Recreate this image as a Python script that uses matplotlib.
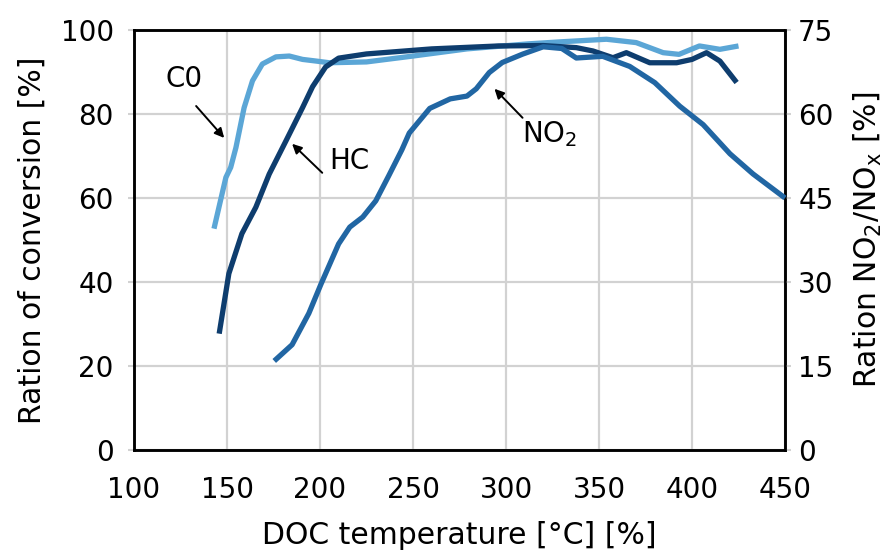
import matplotlib
matplotlib.use("Agg")
import matplotlib.pyplot as plt

# ---- data ----
co_temp = [143, 149.4, 152, 154.8, 159.2, 163.7, 169, 176.3, 183.5, 190.6, 198, 205, 225, 250, 279, 312, 330, 354, 370, 384.5, 393, 404, 415, 425]
co_conv = [52.7, 64.9, 67.3, 72, 81.5, 87.9, 91.9, 93.6, 93.8, 93.0, 92.6, 92.2, 92.4, 93.8, 95.5, 96.7, 97.2, 97.8, 97.0, 94.6, 94.2, 96.2, 95.4, 96.2]

hc_temp = [145.8, 151, 158, 165.5, 172.7, 181.7, 190.6, 196, 203, 210, 225, 260, 296, 320, 337.8, 346.8, 357.5, 364.7, 377.3, 391.7, 400, 407.8, 415, 424]
hc_conv = [27.7, 42, 51.5, 57.8, 65.7, 73.6, 81.5, 86.5, 91.2, 93.3, 94.3, 95.5, 96.2, 96.3, 95.8, 95.0, 93.4, 94.6, 92.2, 92.2, 93.0, 94.6, 92.6, 87.5]

no2_temp = [175.4, 185, 194, 200.5, 210, 216, 223, 230, 237, 244, 248, 259, 270, 279, 284, 291, 298, 309, 320, 330, 337.8, 352, 366.5, 380, 393.4, 406, 420.4, 432.8, 450]
no2_ratio = [15.9, 18.8, 24.4, 29.6, 36.8, 39.8, 41.6, 44.5, 49.0, 53.6, 56.6, 61.0, 62.7, 63.2, 64.5, 67.4, 69.2, 70.7, 72.0, 71.7, 70.0, 70.3, 68.5, 65.6, 61.4, 58.1, 52.9, 49.3, 45.0]

x_ticks = [100, 150, 200, 250, 300, 350, 400, 450]
y_ticks = [0, 20, 40, 60, 80, 100]
y2_ticks = [0, 15, 30, 45, 60, 75]

c_co = "#5ba6d6"
c_hc = "#0e3d6e"
c_no2 = "#2166a3"
grid_c = "#d2d2d2"

plt.rcParams['font.family'] = ['DejaVu Sans']

fig = plt.figure(figsize=(8.88, 5.53), dpi=100)
ax = fig.add_axes([134/888, 1-450/553, (785-134)/888, (450-30)/553])
ax2 = ax.twinx()

ax.set_xlim(100, 450)
ax.set_ylim(0, 100)
ax2.set_ylim(0, 75)

ax.set_xticks(x_ticks)
ax.set_yticks(y_ticks)
ax2.set_yticks(y2_ticks)

ax.grid(True, color=grid_c, linewidth=1.6)
ax.set_axisbelow(True)

lw = 3.8
ax.plot(co_temp, co_conv, color=c_co, lw=lw, solid_capstyle='butt', zorder=3)
ax.plot(hc_temp, hc_conv, color=c_hc, lw=lw, solid_capstyle='butt', zorder=4)
ax2.plot(no2_temp, no2_ratio, color=c_no2, lw=lw, solid_capstyle='butt', zorder=3, clip_on=False)

for a in (ax, ax2):
    for s in a.spines.values():
        s.set_linewidth(1.8)
        s.set_color('black')

fs_tick = 20
fs_lab = 21.5
ax.tick_params(axis='x', length=0, pad=19, labelsize=fs_tick)
ax.tick_params(axis='y', length=4.5, width=1.5, color=grid_c, pad=10, labelsize=fs_tick)
ax2.tick_params(axis='y', length=4.5, width=1.5, color=grid_c, pad=5, labelsize=fs_tick)

ax.set_xlabel("DOC temperature [°C] [%]", fontsize=fs_lab, labelpad=12)
ax.set_ylabel("Ration of conversion [%]", fontsize=fs_lab, labelpad=10)
ax2.set_ylabel("Ration NO$_2$/NO$_\\mathrm{x}$ [%]", fontsize=fs_lab, labelpad=13)

arrow = dict(arrowstyle='-|>', color='black', lw=1.4, mutation_scale=14, shrinkA=0, shrinkB=0)
fs_ann = 20
ax.text(127, 88.4, "C0", fontsize=fs_ann, ha='center', va='center')
ax.annotate("", xy=(148.5, 74.3), xytext=(133.4, 81.9), arrowprops=arrow)
ax.text(216, 68.9, "HC", fontsize=fs_ann, ha='center', va='center')
ax.annotate("", xy=(185, 72.9), xytext=(201.2, 66), arrowprops=arrow)
ax.text(323.5, 75.3, "NO$_2$", fontsize=fs_ann, ha='center', va='center')
ax.annotate("", xy=(293.8, 86), xytext=(308.9, 79.1), arrowprops=arrow)

fig.savefig("out.png", dpi=100)
